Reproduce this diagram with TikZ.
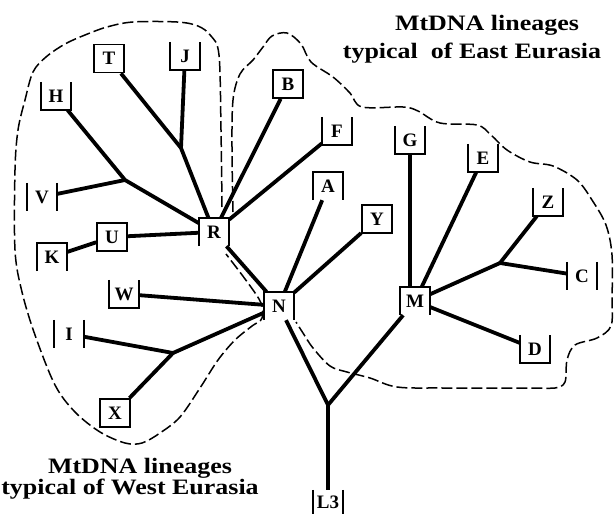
\documentclass[tikz,border=0pt]{standalone}
\usepackage{fontspec}
\setmainfont{Liberation Serif}
\newfontfamily\titlefont[FakeStretch=1.18]{Liberation Serif}
\begin{document}
\begin{tikzpicture}[x=1pt,y=-1pt,
  lab/.style={font=\fontsize{19}{19}\selectfont\bfseries, minimum width=30pt, minimum height=28pt, inner sep=0pt},
  full/.style={lab, draw, line width=1.8pt},
  bx/.style={line width=1.8pt, line join=miter},
  conn/.style={line width=3.8pt},
  bound/.style={line width=1.5pt, dash pattern=on 11pt off 4pt},
  ttl/.style={font=\titlefont\fontsize{22}{22}\selectfont\bfseries, inner sep=0pt, anchor=base}
]
\useasboundingbox[fill=white] (0,0) rectangle (616,514);

% boundaries
\draw[bound] plot[smooth, tension=0.55] coordinates {(222,207) (221,130) (219,55) (211,36) (198,26) (177,22) (133,22) (107,27) (85,35) (65,44) (46,57) (33,72) (25,100) (18,130) (15,170) (15,250) (22,292) (35,335) (55,385) (75,412) (100,432) (125,443) (142,443) (160,433) (180,417) (200,388) (218,360) (235,340) (252,326) (262,318) (259,299) (226,254)};
\draw[bound] plot[smooth, tension=0.55] coordinates {(233,212) (232,150) (233,100) (240,74) (253,60) (263,47) (272,36) (287,33) (301,44) (311,62) (333,77) (350,93) (362,107) (403,107) (418,111) (440,123) (477,125) (491,135) (507,150) (530,162) (553,166) (577,180) (592,200) (606,225) (612,255) (612,300) (611,326) (597,338) (575,345) (567,360) (565,382) (555,388) (533,388) (443,388) (397,387) (370,378) (347,372) (330,366) (313,348) (303,333) (296,322)};

% nodes
\node[full] (T) at (109,58.5) {T};
\node[lab] (J) at (185,56) {J};
\node[lab] (H) at (56,96) {H};
\node[full] (B) at (288,84) {B};
\node[lab] (F) at (337,131) {F};
\node[lab] (V) at (42,197) {V};
\node[full] (U) at (112,237) {U};
\node[lab] (K) at (52,257) {K};
\node[lab] (R) at (214,232) {R};
\node[lab] (A) at (328,186) {A};
\node[full] (Y) at (377,219) {Y};
\node[lab] (G) at (410,140) {G};
\node[lab] (E) at (483,158) {E};
\node[lab] (Z) at (548,202) {Z};
\node[lab] (W) at (124,294) {W};
\node[lab] (N) at (279,306) {N};
\node[lab] (I) at (69,334) {I};
\node[full] (X) at (115,413) {X};
\node[lab] (M) at (415,301) {M};
\node[lab] (C) at (582,276) {C};
\node[lab] (D) at (535,349) {D};
\node[lab, minimum height=24pt] (L3) at (328,502) {L3};

% partial borders: left, bottom, right
\foreach \n in {J,H,F,G,E,Z,W,D}
  \draw[bx] (\n.north west) -- (\n.south west) -- (\n.south east) -- (\n.north east);
% left, top, right
\foreach \n in {A,N,M,R,K}
  \draw[bx] (\n.south west) -- (\n.north west) -- (\n.north east) -- (\n.south east);
% left and right only
\foreach \n in {V,I,C,L3}
  {\draw[bx] (\n.north west) -- (\n.south west);
   \draw[bx] (\n.north east) -- (\n.south east);}

% junctions
\coordinate (jJ) at (181,148);
\coordinate (jV) at (125,180);
\coordinate (jX) at (173,353);
\coordinate (jL) at (328,405);
\coordinate (jZ) at (500,263);

% connectors
\draw[conn] (T) -- (jJ) -- (R);
\draw[conn] (J) -- (jJ);
\draw[conn] (H) -- (jV) -- (R);
\draw[conn] (V) -- (jV);
\draw[conn] (U) -- (R);
\draw[conn] (K) -- (U);
\draw[conn] (B) -- (R);
\draw[conn] (F) -- (R);
\draw[conn] (R) -- (N);
\draw[conn] (A) -- (N);
\draw[conn] (Y) -- (N);
\draw[conn] (W) -- (N);
\draw[conn] (I) -- (jX) -- (N);
\draw[conn] (X) -- (jX);
\draw[conn] (N) -- (jL);
\draw[conn] (M) -- (jL);
\draw[conn] (jL) -- (L3);
\draw[conn] (G) -- (G |- M.north);
\draw[conn] (E) -- (M);
\draw[conn] (M) -- (jZ);
\draw[conn] (jZ) -- (Z);
\draw[conn] (jZ) -- (C);
\draw[conn] (M) -- (D);

% titles
\node[ttl] (et1) at (487,30) {MtDNA lineages};
\node[ttl] (et2) at (472,58) {typical\ \ of East Eurasia};
\node[ttl] (wt1) at (140,473) {MtDNA lineages};
\node[ttl] (wt2) at (130,494) {typical of West Eurasia};
\end{tikzpicture}
\end{document}
